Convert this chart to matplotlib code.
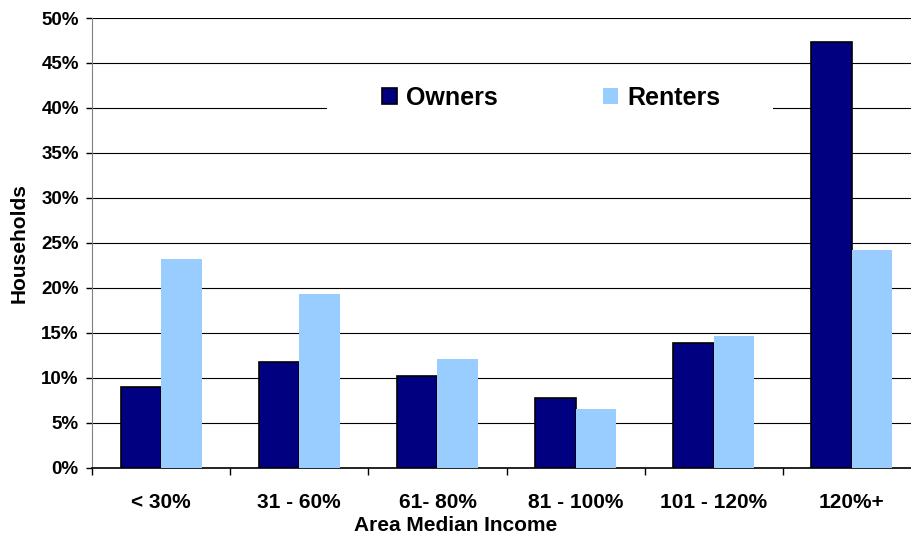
import matplotlib.pyplot as plt
import numpy as np
from matplotlib.patches import Rectangle

plt.rcParams['font.family'] = ['Liberation Sans', 'DejaVu Sans']
plt.rcParams['font.weight'] = 'bold'

categories = ['< 30%', '31 - 60%', '61- 80%', '81 - 100%', '101 - 120%', '120%+']
owners = [9.0, 11.7, 10.2, 7.75, 13.8, 47.3]
renters = [23.2, 19.3, 12.1, 6.5, 14.6, 24.2]
yticks = [0, 5, 10, 15, 20, 25, 30, 35, 40, 45, 50]

fig = plt.figure(figsize=(9.12, 5.37), dpi=100)
ax = fig.add_axes([0.1009, 0.1294, 0.909, 0.837])

x = np.arange(len(categories))
w = 0.293
ax.bar(x - w / 2, owners, w, color='#000080', edgecolor='black', linewidth=1.2,
       label='Owners', zorder=3)
ax.bar(x + w / 2, renters, w, color='#99CCFF', edgecolor='none',
       label='Renters', zorder=3)

ax.set_xlim(-0.5, len(categories) - 0.5)
ax.set_ylim(0, 50)
ax.set_yticks(yticks)
ax.set_yticklabels([f'{v}%' for v in yticks], fontsize=13.5, fontweight='bold')
ax.yaxis.grid(True, color='black', linewidth=0.8, zorder=0)
ax.set_axisbelow(True)

# category boundaries as major ticks, labels at centres as minor ticks
ax.set_xticks(np.arange(-0.5, len(categories), 1.0))
ax.set_xticklabels([])
ax.set_xticks(x, minor=True)
ax.set_xticklabels(categories, minor=True, fontsize=15, fontweight='bold')
ax.tick_params(axis='x', which='major', length=5, width=1, direction='out')
ax.tick_params(axis='x', which='minor', length=0, pad=18)
ax.tick_params(axis='y', length=4.5, width=1, pad=5)

for s in ['top', 'right']:
    ax.spines[s].set_visible(False)
ax.spines['left'].set_color('#808080')
ax.spines['bottom'].set_color('black')
ax.spines['bottom'].set_linewidth(1.2)

ax.set_xlabel('Area Median Income', fontsize=15, fontweight='bold')
ax.xaxis.set_label_coords(0.438, -0.107)
ax.set_ylabel('Households', fontsize=15, fontweight='bold')
ax.yaxis.set_label_coords(-0.077, 0.5)

# white box behind legend hiding gridline
ax.add_patch(Rectangle((0.2835, 0.755), 0.538, 0.134, transform=ax.transAxes,
                       facecolor='white', edgecolor='none', zorder=1))
ax.legend(loc='center', bbox_to_anchor=(0.554, 0.822), ncol=2, frameon=False,
          handlelength=0.6, handleheight=0.6, handletextpad=0.36,
          columnspacing=4.2, borderpad=0, prop={'weight': 'bold', 'size': 18})

fig.savefig('out.png', dpi=100)
